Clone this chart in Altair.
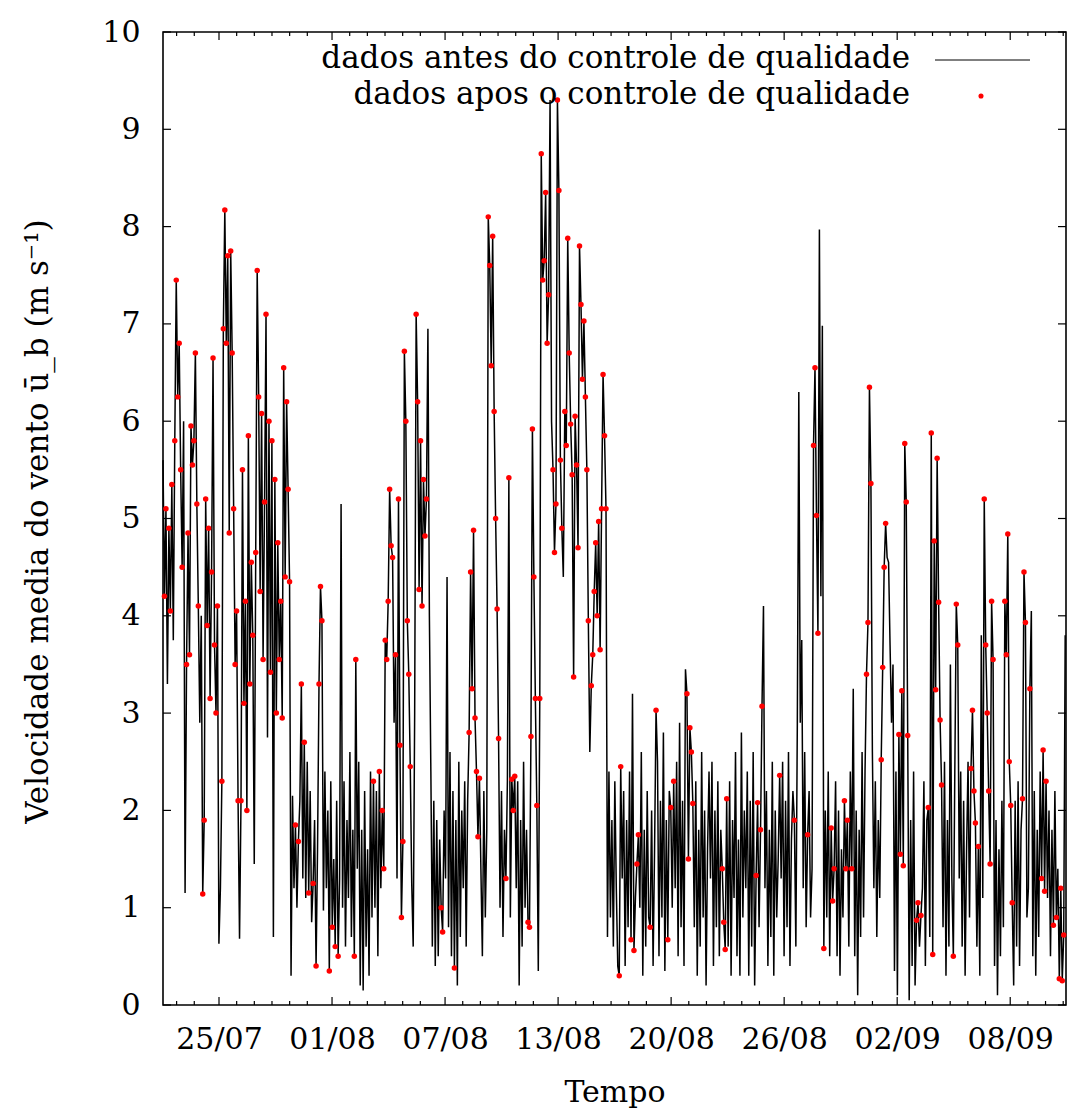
import altair as alt
import pandas as pd
from datetime import datetime, timedelta

# ---- data (2-hourly mean wind speed, m/s), one row per day ----
speed_days = [
    [5.6, 4.2, 5.1, 3.3, 4.9, 4.05, 5.35, 3.75, 5.8, 7.45, 6.25, 6.8],
    [5.5, 4.5, 6.0, 1.15, 3.5, 4.85, 3.6, 5.95, 5.55, 5.8, 6.7, 5.15],
    [4.1, 2.9, 4.0, 1.14, 1.9, 5.2, 3.9, 4.9, 3.15, 4.45, 6.65, 3.7],
    [3.0, 4.1, 0.63, 1.2, 2.3, 6.95, 8.17, 6.8, 7.7, 4.85, 7.75, 6.7],
    [5.1, 3.5, 4.05, 2.1, 0.68, 2.1, 5.5, 3.1, 4.15, 2.0, 5.85, 3.3],
    [4.55, 3.8, 1.45, 4.65, 7.55, 6.25, 4.25, 6.08, 3.55, 5.17, 7.1, 2.75],
    [6.0, 3.42, 5.8, 0.7, 5.4, 3.0, 4.75, 3.55, 4.15, 2.95, 6.55, 4.4],
    [6.2, 5.3, 4.35, 0.3, 2.15, 1.2, 1.85, 1.0, 1.68, 2.1, 3.3, 1.3],
    [2.7, 1.1, 2.5, 1.15, 2.2, 0.85, 1.25, 1.9, 0.4, 1.6, 3.3, 4.3],
    [3.95, 0.97, 2.4, 1.2, 2.0, 0.35, 2.3, 0.8, 1.5, 0.6, 2.1, 0.5],
    [1.3, 5.15, 1.0, 2.3, 0.6, 1.9, 1.1, 2.6, 0.7, 1.8, 0.5, 3.55],
    [1.4, 2.5, 0.2, 1.8, 0.15, 2.2, 0.6, 1.6, 0.3, 2.4, 0.9, 2.3],
    [1.0, 2.2, 0.5, 2.4, 1.2, 2.0, 1.4, 3.75, 3.55, 4.15, 5.3, 4.72],
    [4.6, 2.9, 3.6, 1.3, 5.2, 2.67, 0.9, 1.68, 6.72, 6.0, 3.95, 3.4],
    [2.45, 1.25, 0.6, 3.0, 7.1, 6.2, 4.27, 5.8, 4.1, 5.4, 4.82, 5.2],
    [6.95, 4.0, 2.4, 0.6, 2.1, 0.4, 1.9, 0.5, 1.7, 1.0, 0.75, 2.0],
    [1.3, 4.4, 0.8, 2.6, 0.5, 2.2, 0.38, 1.9, 0.2, 2.5, 0.7, 2.0],
    [1.2, 2.3, 0.6, 2.1, 2.8, 4.45, 3.25, 4.88, 2.95, 2.4, 1.73, 2.33],
    [1.4, 0.5, 2.2, 0.9, 1.8, 8.1, 7.6, 6.57, 7.9, 6.1, 5.0, 4.07],
    [2.74, 1.0, 2.2, 0.7, 1.8, 1.3, 2.3, 5.42, 0.9, 2.32, 2.0, 2.35],
    [1.2, 2.3, 0.2, 1.9, 0.6, 2.5, 1.0, 1.8, 0.85, 0.8, 2.76, 5.92],
    [4.4, 3.15, 2.05, 0.35, 3.15, 8.75, 7.45, 7.65, 8.35, 6.8, 7.3, 9.3],
    [6.0, 5.5, 4.65, 5.15, 9.3, 8.37, 5.6, 4.9, 4.4, 6.1, 5.75, 7.88],
    [6.7, 5.97, 5.45, 3.37, 6.05, 5.55, 4.7, 7.8, 7.2, 6.43, 7.03, 6.25],
    [5.5, 3.95, 2.6, 3.28, 3.6, 4.25, 4.75, 4.0, 4.97, 3.65, 5.1, 6.48],
    [5.85, 5.1, 0.7, 2.4, 0.9, 1.9, 0.6, 2.3, 1.2, 0.4, 0.3, 2.45],
    [1.3, 2.2, 0.4, 1.9, 0.8, 2.4, 0.67, 3.2, 0.56, 1.1, 1.45, 1.75],
    [1.0, 2.6, 0.3, 1.8, 0.6, 2.2, 0.9, 0.8, 2.0, 0.4, 1.6, 3.03],
    [2.5, 0.5, 2.1, 0.9, 2.8, 0.35, 1.9, 0.67, 2.2, 2.03, 1.0, 2.3],
    [1.2, 2.5, 0.5, 2.9, 0.8, 2.1, 0.4, 3.45, 3.2, 1.5, 2.85, 2.6],
    [2.07, 0.8, 2.3, 0.3, 1.8, 0.6, 2.6, 0.9, 2.0, 0.2, 1.6, 2.4],
    [1.3, 2.5, 0.4, 2.0, 0.8, 2.3, 0.5, 1.8, 1.4, 0.85, 0.57, 2.12],
    [0.6, 2.3, 0.3, 1.9, 1.1, 2.6, 0.5, 1.7, 0.3, 2.8, 0.9, 2.0],
    [1.2, 2.4, 0.3, 2.1, 0.6, 2.6, 0.2, 1.33, 2.08, 0.8, 1.8, 3.07],
    [4.1, 1.2, 2.2, 0.4, 1.8, 0.7, 2.5, 0.3, 2.0, 0.9, 1.5, 2.36],
    [1.3, 2.5, 0.5, 2.1, 0.8, 2.6, 0.4, 1.7, 2.2, 1.9, 0.6, 2.9],
    [6.3, 2.9, 3.75, 1.2, 2.6, 0.8, 1.75, 2.2, 0.9, 1.4, 5.75, 6.55],
    [5.03, 3.82, 7.97, 4.2, 6.98, 0.58, 2.0, 0.9, 2.4, 0.5, 1.82, 1.07],
    [1.4, 2.3, 0.5, 2.0, 0.3, 1.6, 0.9, 2.1, 1.4, 1.9, 0.6, 2.4],
    [1.4, 3.25, 0.5, 2.0, 0.1, 1.8, 0.7, 2.6, 0.9, 2.4, 3.4, 3.93],
    [6.35, 5.36, 2.6, 1.2, 2.3, 0.7, 1.9, 1.1, 2.52, 3.47, 4.5, 4.95],
    [4.6, 4.55, 3.7, 2.9, 3.5, 0.35, 2.4, 0.1, 2.78, 1.55, 3.23, 1.43],
    [5.77, 5.17, 2.77, 0.05, 1.9, 0.4, 2.4, 0.2, 0.87, 1.05, 0.6, 0.92],
    [1.2, 2.3, 0.4, 1.9, 2.03, 0.7, 5.88, 0.52, 4.77, 3.24, 5.62, 4.14],
    [2.93, 2.26, 0.8, 2.5, 0.3, 1.9, 0.6, 3.5, 1.3, 0.5, 2.4, 4.12],
    [3.7, 1.3, 2.4, 0.6, 2.1, 0.3, 1.6, 2.5, 0.9, 2.43, 3.03, 2.2],
    [1.87, 0.6, 1.63, 0.3, 3.8, 1.1, 5.2, 3.7, 3.0, 2.2, 1.45, 4.15],
    [3.55, 0.4, 1.9, 0.1, 1.6, 0.5, 2.1, 0.8, 4.15, 3.6, 4.84, 2.5],
    [2.05, 1.05, 0.2, 2.1, 0.6, 2.3, 0.4, 1.8, 2.12, 4.45, 3.93, 0.9],
    [1.2, 3.25, 4.05, 0.5, 2.2, 0.3, 1.8, 0.7, 2.4, 1.3, 2.62, 1.17],
    [2.3, 1.1, 2.0, 0.5, 1.8, 0.82, 2.2, 0.9, 1.4, 0.27, 1.2, 0.25],
    [0.72, 3.8],
]

# quality-control result for each value (1 = kept after QC)
qc_days = [
    "011011101111", "110011111111", "100111111111", "110011111111",
    "111101111111", "110111111110", "111011111111", "111000101010",
    "100100101011", "100001010101", "000000000011", "000000000001",
    "000101111111", "101011111111", "100011111111", "000000000110",
    "000000100000", "000011111111", "000001111111", "100001010111",
    "000000001111", "111011111110", "011111110111", "111111111111",
    "110111111111", "110000000011", "000000101011", "000000010001",
    "000000010101", "000000001111", "100000000000", "000000001111",
    "000000000000", "000000011011", "000000000001", "000000000100",
    "000000100011", "110001000011", "100000011100", "100000000011",
    "110000001111", "000000001111", "111000001101", "000010111111",
    "110000000101", "100000000111", "101000111111", "100000001111",
    "110000001110", "010000000111", "100001010111", "10",
]

tick_labels_fmt = "%d/%m"
legend_labels = ["dados antes do controle de qualidade",
                 "dados apos o controle de qualidade"]
y_ticks = list(range(0, 11))

# ---- build table ----
start = datetime(2011, 7, 22, 12, 42)
end = datetime(2011, 9, 11, 15, 48)
speed, qc = [], []
for vals, flags in zip(speed_days, qc_days):
    n = min(len(vals), len(flags))
    speed.extend(vals[:n])
    qc.extend([f == "1" for f in flags[:n]])
times = [start + timedelta(hours=2 * i) for i in range(len(speed))]
df = pd.DataFrame({"t": [t.isoformat() for t in times], "v": speed, "ok": qc})
df_ok = df[df["ok"]].reset_index(drop=True)

major0 = datetime(2011, 7, 25, 16, 48)
major = [major0 + timedelta(days=6.4 * i) for i in range(8)]
minor = [major0 + timedelta(days=6.4 * i + k) for i in range(-1, 8) for k in range(1, 6)]
minor = [m for m in minor if start <= m <= end]
df_major = pd.DataFrame({"t": [m.isoformat() for m in major]})
df_minor = pd.DataFrame({"t": [m.isoformat() for m in minor]})
df_yt = pd.DataFrame({"v": y_ticks})


def dt(d):
    return alt.DateTime(year=d.year, month=d.month, date=d.day,
                        hours=d.hour, minutes=d.minute)


W, H = 903, 973
FONT = "DejaVu Serif"

X = alt.X("t:T",
          scale=alt.Scale(domain=[dt(start), dt(end)]),
          axis=alt.Axis(values=[dt(m) for m in major], format=tick_labels_fmt,
                        title="Tempo", grid=False, ticks=False, tickSize=0,
                        domain=False, labelFlush=False, labelOverlap=False,
                        labelPadding=43, labelBaseline="alphabetic",
                        labelFont=FONT, labelFontSize=30, labelColor="black",
                        titleFont=FONT, titleFontSize=30, titleColor="black",
                        titleFontWeight="normal", titleX=W / 2, titleY=96,
                        titleBaseline="alphabetic", titleAlign="center"))
Y = alt.Y("v:Q",
          scale=alt.Scale(domain=[0, 10], nice=False, zero=False),
          axis=alt.Axis(values=y_ticks, format="d",
                        title="Velocidade media do vento ū_b (m s⁻¹)",
                        grid=False, ticks=False, tickSize=0, domain=False,
                        labelFlush=False, labelOverlap=False, labelPadding=23,
                        labelFont=FONT, labelFontSize=30, labelColor="black",
                        titleFont=FONT, titleFontSize=31, titleColor="black",
                        titleFontWeight="normal", titleAngle=270,
                        titleX=-116, titleY=489, titleBaseline="alphabetic",
                        titleAlign="center"))

line = alt.Chart(df).mark_line(color="black", strokeWidth=1.5).encode(x=X, y=Y)
dots = alt.Chart(df_ok).mark_circle(color="red", size=30, opacity=1).encode(x=X, y=Y)

maj_b = alt.Chart(df_major).mark_rule(color="black", strokeWidth=1.2).encode(
    x=X, y=alt.value(H), y2=alt.value(H - 8))
maj_t = alt.Chart(df_major).mark_rule(color="black", strokeWidth=1.2).encode(
    x=X, y=alt.value(0), y2=alt.value(8))
min_b = alt.Chart(df_minor).mark_rule(color="black", strokeWidth=1.2).encode(
    x=X, y=alt.value(H), y2=alt.value(H - 4))
min_t = alt.Chart(df_minor).mark_rule(color="black", strokeWidth=1.2).encode(
    x=X, y=alt.value(0), y2=alt.value(4))
yt_l = alt.Chart(df_yt).mark_rule(color="black", strokeWidth=1.2).encode(
    y=Y, x=alt.value(0), x2=alt.value(8))
yt_r = alt.Chart(df_yt).mark_rule(color="black", strokeWidth=1.2).encode(
    y=Y, x=alt.value(W), x2=alt.value(W - 8))

leg_df1 = pd.DataFrame({"label": [legend_labels[0]]})
leg_df2 = pd.DataFrame({"label": [legend_labels[1]]})
leg_t1 = alt.Chart(leg_df1).mark_text(font=FONT, fontSize=31, align="right",
                                      baseline="alphabetic", color="black").encode(
    x=alt.value(747), y=alt.value(36), text="label:N")
leg_t2 = alt.Chart(leg_df2).mark_text(font=FONT, fontSize=31, align="right",
                                      baseline="alphabetic", color="black").encode(
    x=alt.value(747), y=alt.value(72), text="label:N")
leg_line = alt.Chart(leg_df1).mark_rule(color="black", strokeWidth=1).encode(
    x=alt.value(772), x2=alt.value(867), y=alt.value(28))
leg_dot = alt.Chart(leg_df2).mark_circle(color="red", size=26, opacity=1).encode(
    x=alt.value(818), y=alt.value(64))

chart = alt.layer(
    line, dots, maj_b, maj_t, min_b, min_t, yt_l, yt_r,
    leg_t1, leg_t2, leg_line, leg_dot
).properties(
    width=W, height=H,
    autosize=alt.AutoSizeParams(type="none"),
    padding={"left": 163, "top": 32, "right": 1, "bottom": 108},
    background="white",
).configure_view(stroke="black", strokeWidth=1.6)

chart.save("out.html", embed_options={"renderer": "svg", "actions": False})
